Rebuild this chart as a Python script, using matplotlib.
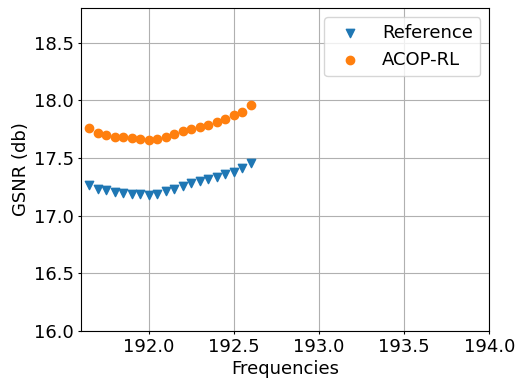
import numpy as np
import matplotlib
matplotlib.use("Agg")
import matplotlib.pyplot as plt

# frequencies (THz) and GSNR values
freqs = [191.65, 191.70, 191.75, 191.80, 191.85, 191.90, 191.95, 192.00, 192.05, 192.10,
         192.15, 192.20, 192.25, 192.30, 192.35, 192.40, 192.45, 192.50, 192.55, 192.60]
gsnr_reference = [17.268, 17.234, 17.220, 17.205, 17.197, 17.190, 17.185, 17.180, 17.185, 17.210,
                  17.230, 17.254, 17.280, 17.300, 17.320, 17.337, 17.360, 17.380, 17.410, 17.460]
gsnr_acop = [17.760, 17.720, 17.700, 17.685, 17.680, 17.670, 17.665, 17.660, 17.665, 17.680,
             17.705, 17.735, 17.750, 17.770, 17.790, 17.815, 17.840, 17.870, 17.900, 17.960]

plt.rcParams["font.size"] = 13

fig = plt.figure(figsize=(5.21, 3.78), dpi=100)
ax = fig.add_axes([0.155, 0.124, 0.784, 0.855])
ax.scatter(freqs, gsnr_reference, marker="v", label="Reference", zorder=3)
ax.scatter(freqs, gsnr_acop, marker="o", label="ACOP-RL", zorder=3)
ax.set_xlim(191.6, 194.0)
ax.set_ylim(16.0, 18.8)
ax.set_xticks([192.0, 192.5, 193.0, 193.5, 194.0])
ax.set_yticks([16.0, 16.5, 17.0, 17.5, 18.0, 18.5])
ax.tick_params(length=2.5, pad=2.5)
ax.set_xlabel("Frequencies", labelpad=3)
ax.set_ylabel("GSNR (db)", labelpad=3)
ax.grid(True)
ax.legend(loc="upper right")
fig.savefig("out.png", dpi=100)
